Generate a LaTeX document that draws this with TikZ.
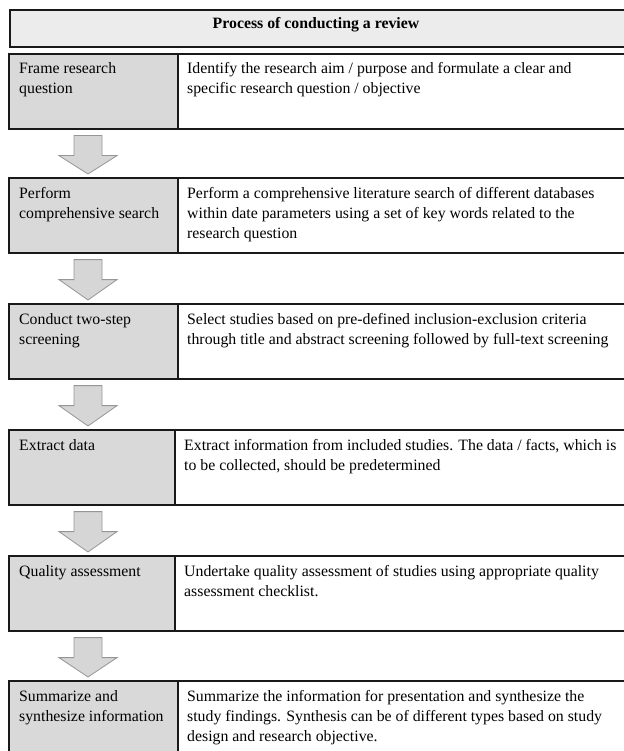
\documentclass[tikz,border=0pt]{standalone}
\usepackage{fontspec}
\setmainfont{Liberation Serif}
\usetikzlibrary{calc}

\begin{document}
\begin{tikzpicture}[x=1pt,y=-1pt,
    stepbox/.style={draw=boxline, line width=1.6pt, fill=stepgray, anchor=north west, minimum height=75pt, inner sep=0pt},
    descbox/.style={draw=boxline, line width=1.6pt, fill=white, anchor=north west, minimum height=75pt, minimum width=470pt, inner sep=0pt},
    boxtext/.style={anchor=north west, inner sep=0pt, align=left, font=\fontsize{15.8}{20}\selectfont},
    blockarrow/.style={draw=arrowline, line width=0.8pt, fill=arrowgray}]
    % Define colours
    \definecolor{boxline}{RGB}{25,25,25}
    \definecolor{stepgray}{RGB}{217,217,217}
    \definecolor{titlegray}{RGB}{236,236,236}
    \definecolor{arrowgray}{RGB}{214,214,214}
    \definecolor{arrowline}{RGB}{150,150,150}

    \useasboundingbox (0,0) rectangle (623,751);

    % Heading bar
    \node[descbox, fill=titlegray, minimum height=37pt, minimum width=631pt] (head) at (9,9) {};
    \node[font=\bfseries\fontsize{15.8}{20}\selectfont] (title) at (316,25) {Process of conducting a review};

    % Step boxes (grey) and description boxes
    \node[stepbox, minimum width=169pt] (s1) at (8,53) {};
    \node[descbox] (d1) at (177,53) {};
    \node[stepbox, minimum width=169pt] (s2) at (8,177) {};
    \node[descbox] (d2) at (177,177) {};
    \node[stepbox, minimum width=169pt] (s3) at (8,303) {};
    \node[descbox] (d3) at (177,303) {};
    \node[stepbox, minimum width=166pt] (s4) at (8,429) {};
    \node[descbox] (d4) at (174,429) {};
    \node[stepbox, minimum width=166pt] (s5) at (8,555) {};
    \node[descbox] (d5) at (174,555) {};
    \node[stepbox, minimum width=169pt] (s6) at (8,680) {};
    \node[descbox] (d6) at (177,680) {};

    % Texts
    \node[boxtext] (st1) at ($(s1.north west)+(11,9)$) {Frame research\\question};
    \node[boxtext] (dt1) at ($(d1.north west)+(10,9)$) {Identify the research aim / purpose and formulate a clear and\\specific research question / objective};
    \node[boxtext] (st2) at ($(s2.north west)+(11,10)$) {Perform\\comprehensive search};
    \node[boxtext] (dt2) at ($(d2.north west)+(10,10)$) {Perform a comprehensive literature search of different databases\\within date parameters using a set of key words related to the\\research question};
    \node[boxtext] (st3) at ($(s3.north west)+(11,10)$) {Conduct two-step\\screening};
    \node[boxtext] (dt3) at ($(d3.north west)+(10,10)$) {Select studies based on pre-defined inclusion-exclusion criteria\\through title and abstract screening followed by full-text screening};
    \node[boxtext] (st4) at ($(s4.north west)+(11,10)$) {Extract data};
    \node[boxtext] (dt4) at ($(d4.north west)+(10,10)$) {Extract information from included studies. The data / facts, which is\\to be collected, should be predetermined};
    \node[boxtext] (st5) at ($(s5.north west)+(11,10)$) {Quality assessment};
    \node[boxtext] (dt5) at ($(d5.north west)+(10,10)$) {Undertake quality assessment of studies using appropriate quality\\assessment checklist.};
    \node[boxtext] (st6) at ($(s6.north west)+(11,10)$) {Summarize and\\synthesize information};
    \node[boxtext] (dt6) at ($(d6.north west)+(10,10)$) {Summarize the information for presentation and synthesize the\\study findings. Synthesis can be of different types based on study\\design and research objective.};

    % Block arrows between steps
    \foreach \a/\b in {1/2,2/3,3/4,4/5,5/6} {
        \coordinate (top) at ($(s\a.south west)+(80,0)$);
        \coordinate (tip) at ($(s\b.north west)+(80,-3)$);
        \draw[blockarrow] ($(top)+(-14,6)$) -- ($(top)+(14,6)$) -- ($(top)+(14,26)$)
            -- ($(top)+(29,26)$) -- (tip) -- ($(top)+(-29,26)$) -- ($(top)+(-14,26)$) -- cycle;
    }
\end{tikzpicture}
\end{document}
